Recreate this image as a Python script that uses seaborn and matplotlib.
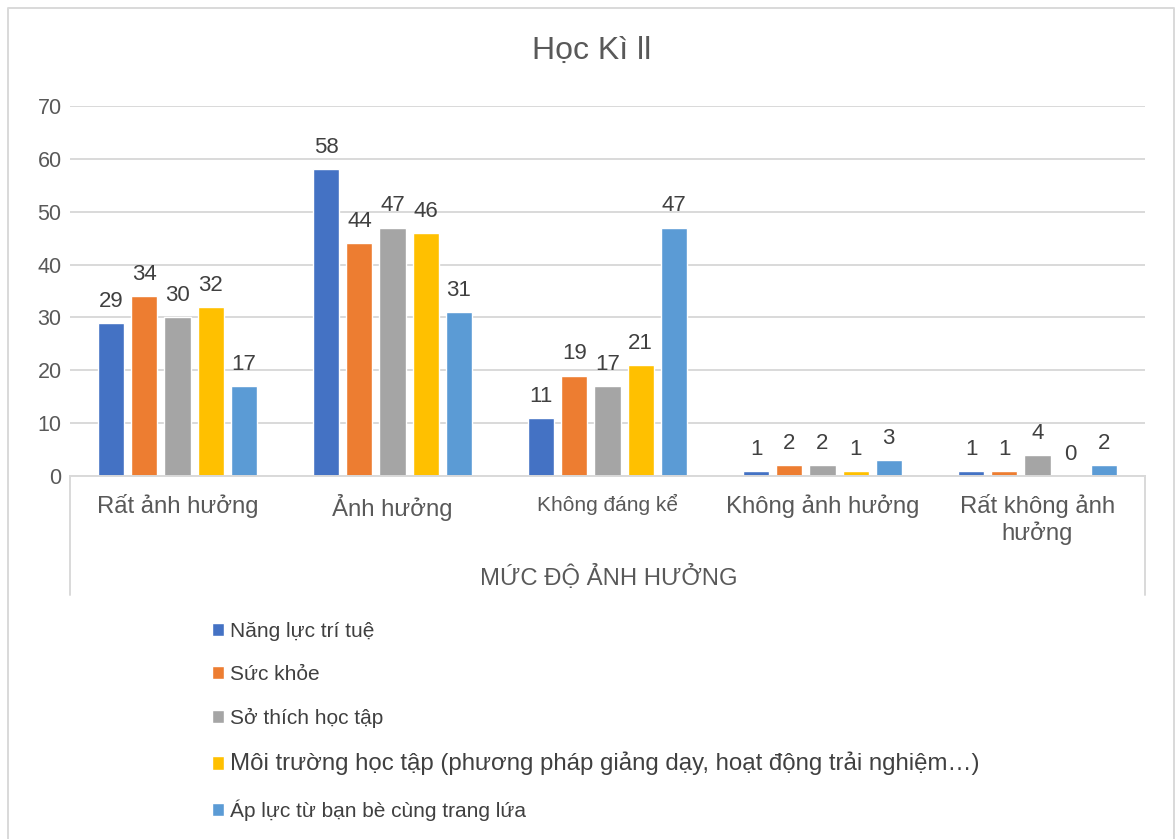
import matplotlib
matplotlib.use("Agg")
import matplotlib.pyplot as plt
from matplotlib.lines import Line2D
import pandas as pd
import seaborn as sns

# Influence levels (category axis)
levels = ["Rất ảnh hưởng", "Ảnh hưởng", "Không đáng kể", "Không ảnh hưởng", "Rất không ảnh\nhưởng"]

# Factors (series)
factors = [
    "Năng lực trí tuệ",
    "Sức khỏe",
    "Sở thích học tập",
    "Môi trường học tập (phương pháp giảng dạy, hoạt động trải nghiệm…)",
    "Áp lực từ bạn bè cùng trang lứa",
]

nang_luc = [29, 58, 11, 1, 1]
suc_khoe = [34, 44, 19, 2, 1]
so_thich = [30, 47, 17, 2, 4]
moi_truong = [32, 46, 21, 1, 0]
ap_luc = [17, 31, 47, 3, 2]

colors = ["#4472C4", "#ED7D31", "#A5A5A5", "#FFC000", "#5B9BD5"]
y_ticks = [0, 10, 20, 30, 40, 50, 60, 70]

series = [nang_luc, suc_khoe, so_thich, moi_truong, ap_luc]
rows = []
for name, vals in zip(factors, series):
    for lvl, v in zip(levels, vals):
        rows.append({"level": lvl, "factor": name, "value": v})
df = pd.DataFrame(rows)

sns.set_theme(style="white")
plt.rcParams["font.family"] = ["Liberation Sans", "DejaVu Sans"]

W, H = 1176, 839
fig = plt.figure(figsize=(W / 100, H / 100), dpi=100)
ax = fig.add_axes([70 / W, 1 - 476 / H, (1145 - 70) / W, (476 - 106) / H])

sns.barplot(data=df, x="level", y="value", hue="factor", order=levels,
            hue_order=factors, palette=colors, width=0.77, gap=0.21,
            saturation=1, ax=ax, legend=True)

handles, labels = ax.get_legend_handles_labels()
ax.get_legend().remove()

for cont in ax.containers:
    ax.bar_label(cont, fmt="%d", padding=8, fontsize=16, color="#404040")

ax.set_ylim(0, 70)
ax.set_yticks(y_ticks)
ax.set_xlim(-0.5, 4.5)
ax.yaxis.grid(True, color="#d9d9d9", linewidth=1.4)
ax.set_axisbelow(True)
for s in ["top", "right", "left"]:
    ax.spines[s].set_visible(False)
ax.spines["bottom"].set_color("#d9d9d9")
ax.spines["bottom"].set_linewidth(1.4)
ax.tick_params(axis="both", length=0, colors="#595959")
ax.tick_params(axis="y", labelsize=15.5, pad=6)
ax.tick_params(axis="x", labelsize=17.2, pad=13)
ax.set_xlabel("")
ax.set_ylabel("")
for t in ax.get_xticklabels():
    t.set_multialignment("center")
    if t.get_text() == "Không đáng kể":
        t.set_fontsize(15)

# Category axis box and outer label
for xpix in (70, 1145):
    fig.add_artist(Line2D([xpix / W, xpix / W], [1 - 476 / H, 1 - 595 / H],
                          color="#d9d9d9", linewidth=1.4))
fig.text(609 / W, 1 - 578 / H, "MỨC ĐỘ ẢNH HƯỞNG", ha="center", va="center",
         fontsize=17.2, color="#595959")

# Title
fig.text(592 / W, 1 - 51 / H, "Học Kì ll", ha="center", va="center",
         fontsize=23, color="#595959")

# Legend
leg = fig.legend(handles, labels, loc="upper left",
                 bbox_to_anchor=(193 / W, 1 - 603 / H), frameon=False,
                 fontsize=15, labelspacing=1.15, handlelength=0.6,
                 handleheight=0.6, handletextpad=0.3, labelcolor="#404040")
leg.get_texts()[3].set_fontsize(17.3)

# Chart border (left, top, right)
bx0, bx1, by = 7.5 / W, 1174 / W, 1 - 7.5 / H
fig.add_artist(Line2D([bx0, bx0, bx1, bx1], [0, by, by, 0],
                      color="#d9d9d9", linewidth=1.4))

fig.savefig("out.png", dpi=100, facecolor="white")
